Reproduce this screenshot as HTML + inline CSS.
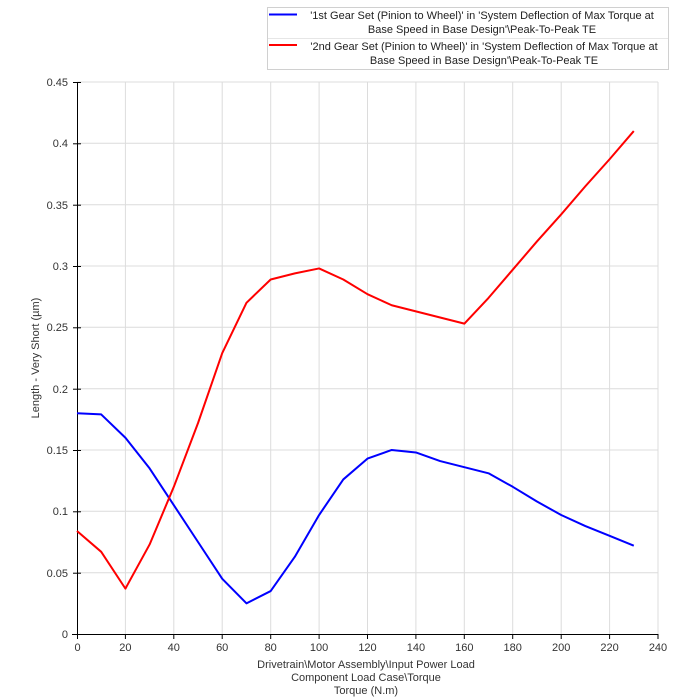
<!DOCTYPE html>
<html><head><meta charset="utf-8"><style>
html,body{margin:0;padding:0;background:#fff;width:700px;height:700px;overflow:hidden}
svg{font-family:"Liberation Sans",Arial,sans-serif}
</style></head><body>
<svg width="700" height="700" viewBox="0 0 700 700" xmlns="http://www.w3.org/2000/svg">
<rect width="700" height="700" fill="#fff"/>
<!-- grid -->
<g stroke="#dcdcdc" stroke-width="1">
<line x1="125.4" y1="82" x2="125.4" y2="634"/><line x1="173.8" y1="82" x2="173.8" y2="634"/>
<line x1="222.2" y1="82" x2="222.2" y2="634"/><line x1="270.7" y1="82" x2="270.7" y2="634"/>
<line x1="319.1" y1="82" x2="319.1" y2="634"/><line x1="367.5" y1="82" x2="367.5" y2="634"/>
<line x1="415.9" y1="82" x2="415.9" y2="634"/><line x1="464.3" y1="82" x2="464.3" y2="634"/>
<line x1="512.7" y1="82" x2="512.7" y2="634"/><line x1="561.2" y1="82" x2="561.2" y2="634"/>
<line x1="609.6" y1="82" x2="609.6" y2="634"/><line x1="658" y1="82" x2="658" y2="634"/>
<line x1="77" y1="572.7" x2="658" y2="572.7"/><line x1="77" y1="511.3" x2="658" y2="511.3"/>
<line x1="77" y1="450" x2="658" y2="450"/><line x1="77" y1="388.7" x2="658" y2="388.7"/>
<line x1="77" y1="327.3" x2="658" y2="327.3"/><line x1="77" y1="266" x2="658" y2="266"/>
<line x1="77" y1="204.7" x2="658" y2="204.7"/><line x1="77" y1="143.3" x2="658" y2="143.3"/>
<line x1="77" y1="82" x2="658" y2="82"/>
</g>
<!-- axes -->
<g stroke="#000" stroke-width="1">
<line x1="77.5" y1="82" x2="77.5" y2="634.5"/>
<line x1="72" y1="634.5" x2="658" y2="634.5"/>
<line x1="73" y1="82.5" x2="81" y2="82.5"/><line x1="73" y1="143.8" x2="81" y2="143.8"/>
<line x1="73" y1="205.2" x2="81" y2="205.2"/><line x1="73" y1="266.5" x2="81" y2="266.5"/>
<line x1="73" y1="327.8" x2="81" y2="327.8"/><line x1="73" y1="389.2" x2="81" y2="389.2"/>
<line x1="73" y1="450.5" x2="81" y2="450.5"/><line x1="73" y1="511.8" x2="81" y2="511.8"/>
<line x1="73" y1="573.2" x2="81" y2="573.2"/>
<g transform="translate(0,634)">
<line x1="77.5" y1="0" x2="77.5" y2="5"/><line x1="125.4" y1="0" x2="125.4" y2="5"/><line x1="173.8" y1="0" x2="173.8" y2="5"/><line x1="222.2" y1="0" x2="222.2" y2="5"/><line x1="270.7" y1="0" x2="270.7" y2="5"/><line x1="319.1" y1="0" x2="319.1" y2="5"/><line x1="367.5" y1="0" x2="367.5" y2="5"/><line x1="415.9" y1="0" x2="415.9" y2="5"/><line x1="464.3" y1="0" x2="464.3" y2="5"/><line x1="512.7" y1="0" x2="512.7" y2="5"/><line x1="561.2" y1="0" x2="561.2" y2="5"/><line x1="609.6" y1="0" x2="609.6" y2="5"/><line x1="658" y1="0" x2="658" y2="5"/>
</g>
</g>
<!-- y labels -->
<g font-size="11" fill="#333" text-anchor="end">
<text x="68" y="86">0.45</text><text x="68" y="147">0.4</text><text x="68" y="209">0.35</text>
<text x="68" y="270">0.3</text><text x="68" y="331">0.25</text><text x="68" y="393">0.2</text>
<text x="68" y="454">0.15</text><text x="68" y="515">0.1</text><text x="68" y="577">0.05</text>
<text x="68" y="638">0</text>
</g>
<g font-size="11" fill="#333" text-anchor="middle">
<text x="77.5" y="651">0</text><text x="125.4" y="651">20</text><text x="173.8" y="651">40</text>
<text x="222.2" y="651">60</text><text x="270.7" y="651">80</text><text x="319.1" y="651">100</text>
<text x="367.5" y="651">120</text><text x="415.9" y="651">140</text><text x="464.3" y="651">160</text>
<text x="512.7" y="651">180</text><text x="561.2" y="651">200</text><text x="609.6" y="651">220</text>
<text x="658" y="651">240</text>
<text x="366" y="668">Drivetrain\Motor Assembly\Input Power Load</text>
<text x="366" y="681">Component Load Case\Torque</text>
<text x="366" y="694">Torque (N.m)</text>
<text transform="translate(39,358) rotate(-90)">Length - Very Short (µm)</text>
</g>
<!-- series -->
<g transform="translate(77,634) scale(2.4208,-1226.7)" fill="none" stroke-width="2" stroke-linejoin="round">
<polyline vector-effect="non-scaling-stroke" stroke="#0000ff" points="0,0.18 10,0.179 20,0.16 30,0.135 40,0.105 50,0.075 60,0.045 70,0.025 80,0.035 90,0.063 100,0.097 110,0.126 120,0.143 130,0.15 140,0.148 150,0.141 160,0.136 170,0.131 180,0.12 190,0.108 200,0.097 210,0.088 220,0.08 230,0.072"/>
<polyline vector-effect="non-scaling-stroke" stroke="#ff0000" points="0,0.084 10,0.067 20,0.037 30,0.073 40,0.12 50,0.172 60,0.229 70,0.27 80,0.289 90,0.294 100,0.298 110,0.289 120,0.277 130,0.268 140,0.263 150,0.258 160,0.253 170,0.274 180,0.297 190,0.32 200,0.342 210,0.365 220,0.387 230,0.41"/>
</g>
<!-- legend -->
<rect x="267.5" y="7.5" width="401" height="62" fill="#fff" stroke="#d0d0d0"/>
<line x1="269" y1="14.5" x2="297" y2="14.5" stroke="#0000ff" stroke-width="2"/>
<line x1="269" y1="45" x2="297" y2="45" stroke="#ff0000" stroke-width="2"/>
<line x1="268" y1="38.5" x2="668" y2="38.5" stroke="#e6e6e6"/>
<g font-size="11" fill="#222" text-anchor="middle">
<text x="482" y="19">'1st Gear Set (Pinion to Wheel)' in 'System Deflection of Max Torque at</text>
<text x="482" y="33">Base Speed in Base Design'\Peak-To-Peak TE</text>
<text x="484" y="50">'2nd Gear Set (Pinion to Wheel)' in 'System Deflection of Max Torque at</text>
<text x="484" y="64">Base Speed in Base Design'\Peak-To-Peak TE</text>
</g>
</svg>
</body></html>
